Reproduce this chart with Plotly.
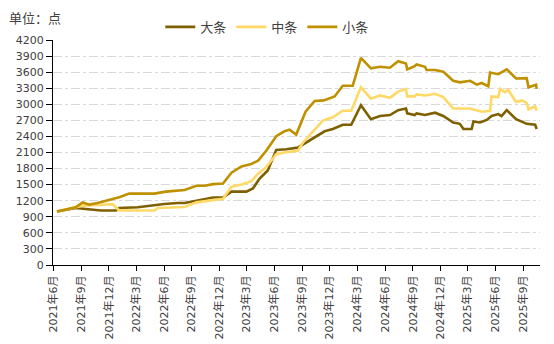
import plotly.graph_objects as go

# 大条
big_dates = ["2021-06-12", "2021-08-13", "2021-10-02", "2021-11-04", "2021-12-24", "2022-01-04",
             "2022-03-06", "2022-04-19", "2022-06-02", "2022-07-16", "2022-08-08", "2022-09-16",
             "2022-11-10", "2022-12-13", "2023-01-10", "2023-02-28", "2023-03-22", "2023-04-13",
             "2023-05-10", "2023-06-07", "2023-07-10", "2023-08-17", "2023-09-14", "2023-10-17",
             "2023-11-14", "2023-12-11", "2024-01-13", "2024-02-10", "2024-03-13", "2024-04-15",
             "2024-05-15", "2024-06-17", "2024-07-14", "2024-08-09", "2024-08-13", "2024-09-07",
             "2024-09-13", "2024-10-11", "2024-11-13", "2024-12-10", "2025-01-12", "2025-02-03",
             "2025-02-15", "2025-03-14", "2025-03-20", "2025-04-11", "2025-05-03", "2025-05-19",
             "2025-06-10", "2025-06-21", "2025-07-08", "2025-08-08", "2025-09-12", "2025-10-10",
             "2025-10-15"]
big_vals = [1000, 1065, 1035, 1017, 1017, 1065,
            1077, 1114, 1138, 1156, 1156, 1200,
            1260, 1260, 1370, 1370, 1430, 1612,
            1765, 2149, 2160, 2191, 2283, 2405,
            2496, 2538, 2617, 2617, 2982, 2721,
            2781, 2800, 2891, 2922, 2830, 2800,
            2830, 2800, 2843, 2781, 2660, 2635,
            2538, 2538, 2678, 2660, 2708, 2781,
            2818, 2781, 2891, 2721, 2635, 2617,
            2538]

# 中条
mid_dates = ["2021-06-12", "2021-08-13", "2021-09-05", "2021-10-24", "2021-12-13", "2022-01-04",
             "2022-04-30", "2022-05-11", "2022-07-16", "2022-08-08", "2022-09-16", "2022-11-10",
             "2022-12-13", "2023-01-10", "2023-02-12", "2023-03-17", "2023-04-08", "2023-05-05",
             "2023-06-07", "2023-07-04", "2023-08-17", "2023-09-03", "2023-10-06", "2023-11-08",
             "2023-12-11", "2024-01-13", "2024-02-10", "2024-03-13", "2024-04-15", "2024-05-15",
             "2024-06-17", "2024-07-14", "2024-08-09", "2024-08-13", "2024-09-07", "2024-09-13",
             "2024-10-11", "2024-11-13", "2024-12-10", "2025-01-12", "2025-03-09", "2025-03-31",
             "2025-04-16", "2025-05-14", "2025-05-19", "2025-06-10", "2025-06-16", "2025-07-02",
             "2025-07-13", "2025-08-08", "2025-08-27", "2025-09-12", "2025-09-18", "2025-10-10",
             "2025-10-15"]
mid_vals = [1000, 1077, 1108, 1120, 1135, 1017,
            1017, 1065, 1077, 1083, 1169, 1205,
            1236, 1461, 1503, 1565, 1704, 1826,
            2069, 2100, 2131, 2283, 2496, 2697,
            2757, 2880, 2880, 3318, 3104, 3165,
            3122, 3237, 3287, 3147, 3147, 3183,
            3165, 3196, 3135, 2922, 2922, 2880,
            2861, 2880, 3147, 3135, 3287, 3226,
            3268, 3044, 3073, 3026, 2904, 2963,
            2880]

# 小条
small_dates = ["2021-06-12", "2021-08-13", "2021-09-05", "2021-09-27", "2021-10-24", "2021-12-13",
               "2022-01-04", "2022-02-06", "2022-04-30", "2022-06-07", "2022-07-16", "2022-08-08",
               "2022-09-16", "2022-10-14", "2022-11-10", "2022-12-13", "2023-01-10", "2023-02-12",
               "2023-03-17", "2023-04-08", "2023-05-05", "2023-06-07", "2023-07-04", "2023-07-21",
               "2023-08-12", "2023-09-12", "2023-10-12", "2023-11-11", "2023-12-17", "2024-01-13",
               "2024-02-15", "2024-03-13", "2024-04-15", "2024-05-15", "2024-06-17", "2024-07-14",
               "2024-08-09", "2024-08-13", "2024-09-07", "2024-09-13", "2024-10-11", "2024-10-16",
               "2024-11-13", "2024-12-10", "2024-12-16", "2025-01-12", "2025-02-03", "2025-03-09",
               "2025-03-31", "2025-04-16", "2025-05-08", "2025-05-14", "2025-06-10", "2025-07-08",
               "2025-08-08", "2025-09-12", "2025-09-18", "2025-10-13", "2025-10-15"]
small_vals = [1000, 1077, 1168, 1127, 1156, 1230,
              1265, 1333, 1333, 1370, 1388, 1400,
              1479, 1479, 1510, 1520, 1722, 1839,
              1887, 1948, 2131, 2405, 2496, 2526,
              2434, 2861, 3062, 3073, 3146, 3347,
              3347, 3866, 3670, 3701, 3683, 3804,
              3761, 3652, 3713, 3743, 3701, 3640,
              3640, 3610, 3579, 3439, 3409, 3439,
              3366, 3397, 3336, 3592, 3561, 3652,
              3482, 3488, 3318, 3366, 3287]

# quarterly axis labels
tick_dates = ["2021-06-01", "2021-09-01", "2021-12-01", "2022-03-01", "2022-06-01", "2022-09-01",
              "2022-12-01", "2023-03-01", "2023-06-01", "2023-09-01", "2023-12-01", "2024-03-01",
              "2024-06-01", "2024-09-01", "2024-12-01", "2025-03-01", "2025-06-01", "2025-09-01"]
tick_text = ["2021年6月", "2021年9月", "2021年12月", "2022年3月", "2022年6月", "2022年9月",
             "2022年12月", "2023年3月", "2023年6月", "2023年9月", "2023年12月", "2024年3月",
             "2024年6月", "2024年9月", "2024年12月", "2025年3月", "2025年6月", "2025年9月"]

FONT = "Noto Sans CJK SC"
TICK_FONT = "DejaVu Sans, Noto Sans CJK SC"

fig = go.Figure()
for name, xs, ys, color in [
    ("大条", big_dates, big_vals, "#7F6000"),
    ("中条", mid_dates, mid_vals, "#FFD966"),
    ("小条", small_dates, small_vals, "#BF9000"),
]:
    fig.add_trace(go.Scatter(x=xs, y=ys, name=name, mode="lines",
                             line=dict(color=color, width=2.6)))

fig.update_layout(
    width=554, height=344,
    margin=dict(l=53, r=14, t=35, b=79),
    paper_bgcolor="white", plot_bgcolor="white",
    font=dict(family=FONT, size=11, color="#404040"),
    showlegend=True,
    legend=dict(orientation="h", x=0.44, xanchor="center", y=1.058, yanchor="middle",
                font=dict(size=13, color="#404040"), itemwidth=30, tracegroupgap=0,
                bgcolor="rgba(0,0,0,0)"),
    annotations=[dict(text="单位：点", xref="paper", yref="paper", x=-0.095, y=1.10,
                      xanchor="left", yanchor="middle", showarrow=False,
                      font=dict(family=FONT, size=13, color="#404040"))],
)

fig.update_xaxes(
    type="date", range=["2021-05-30", "2025-10-26"], automargin=False,
    tickmode="array", tickvals=tick_dates, ticktext=tick_text, tickangle=-90,
    ticks="outside", ticklen=5, tickcolor="black",
    showline=True, linecolor="black", linewidth=1,
    showgrid=False, zeroline=False,
    tickfont=dict(family=TICK_FONT, size=11, color="#404040"),
)
fig.update_yaxes(
    range=[0, 4200], dtick=300, tick0=0, automargin=False,
    ticks="outside", ticklen=6, tickcolor="black",
    showline=True, linecolor="black", linewidth=1,
    showgrid=True, gridcolor="#D9D9D9", griddash="dashdot", gridwidth=1,
    zeroline=False,
    tickfont=dict(family=TICK_FONT, size=11, color="#404040"),
)

fig.write_html("out.html")
